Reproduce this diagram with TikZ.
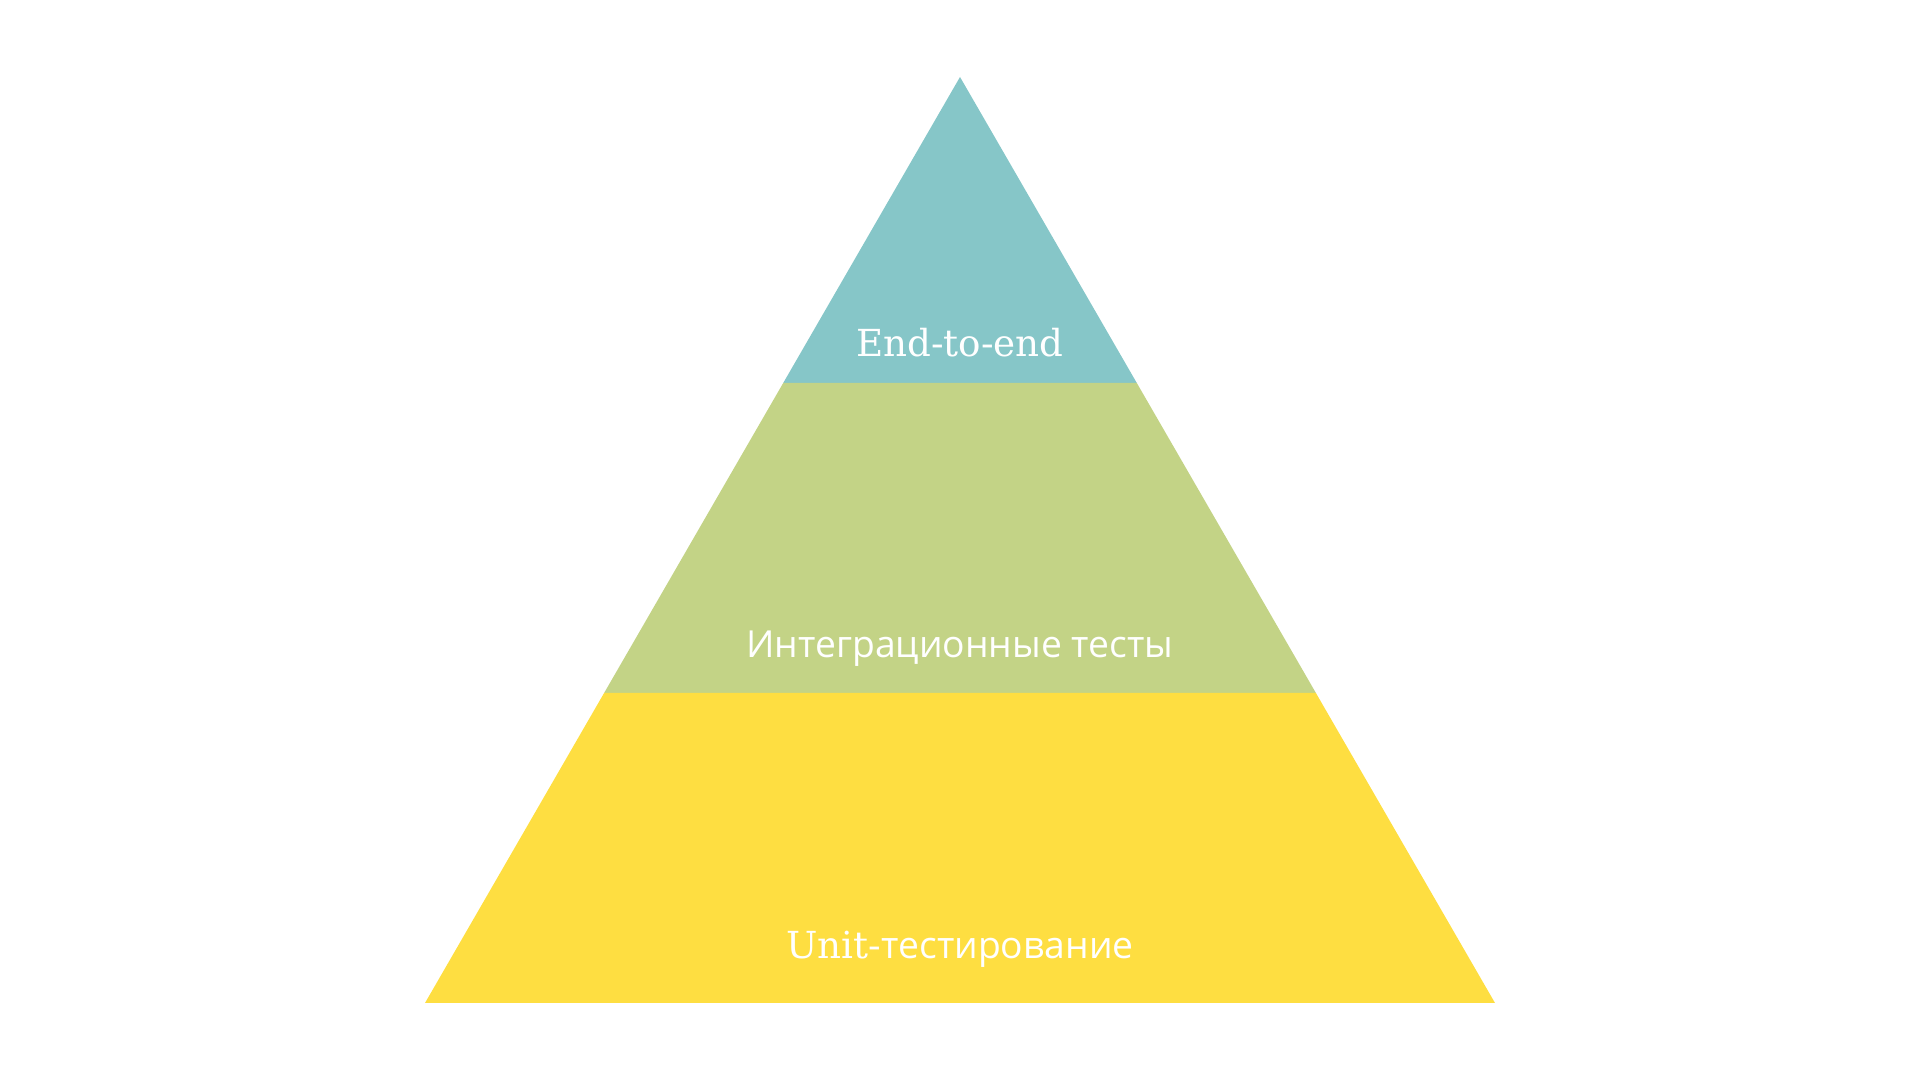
\documentclass[tikz,border=0pt]{standalone}
\usepackage{fontspec}
\setmainfont{Open Sans}
\newfontfamily\slabfont{DejaVu Serif}
\usetikzlibrary{calc}
\definecolor{topcolor}{HTML}{86C6C8}
\definecolor{midcolor}{HTML}{C3D386}
\definecolor{basecolor}{HTML}{FEDE41}
\tikzset{
layerlabel/.style={
  text=white,
  font=\fontsize{10.6}{13}\selectfont,
  anchor=center,
  inner sep=0pt
}
}

\begin{document}
\begin{tikzpicture}[x=1cm, y=1cm]
\useasboundingbox (0,0) rectangle (19.2,10.8);

% corner points of the pyramid
\coordinate (apex) at (9.60, 10.03);
\coordinate (bl) at (4.25, 0.77);
\coordinate (br) at (14.95, 0.77);

% band boundaries
\coordinate (ul) at ($(apex)!{(10.03-6.97)/(10.03-0.77)}!(bl)$);
\coordinate (ur) at ($(apex)!{(10.03-6.97)/(10.03-0.77)}!(br)$);
\coordinate (ml) at ($(apex)!{(10.03-3.87)/(10.03-0.77)}!(bl)$);
\coordinate (mr) at ($(apex)!{(10.03-3.87)/(10.03-0.77)}!(br)$);

% layers
\fill[topcolor] (apex) -- (ul) -- (ur) -- cycle;
\fill[midcolor] (ul) -- (ml) -- (mr) -- (ur) -- cycle;
\fill[basecolor] (ml) -- (bl) -- (br) -- (mr) -- cycle;

% labels
\node[layerlabel] (e2e) at (9.60, 7.37) {\slabfont End-to-end};
\node[layerlabel] (integ) at (9.60, 4.31) {Интеграционные тесты};
\node[layerlabel] (unit) at (9.60, 1.31) {{\slabfont Unit-}тестирование};

\end{tikzpicture}
\end{document}
